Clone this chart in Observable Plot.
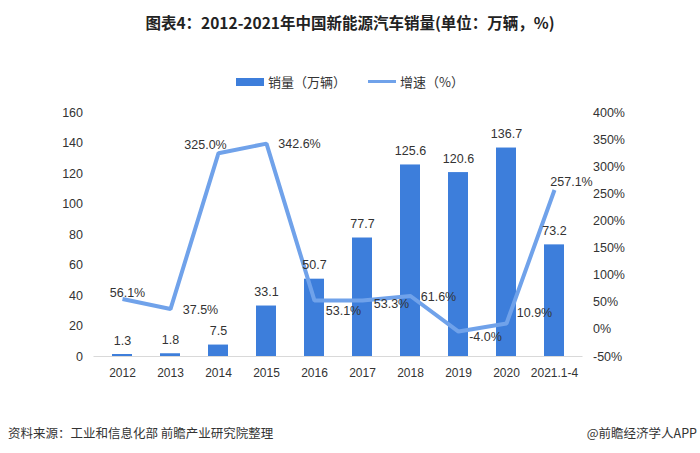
<!DOCTYPE html>
<html>
<head>
<meta charset="utf-8">
<script src="https://cdn.jsdelivr.net/npm/d3@7"></script>
<script src="https://cdn.jsdelivr.net/npm/@observablehq/plot@0.6"></script>
<style>
  body { margin: 0; background: #fff; }
  #wrap { position: relative; width: 700px; height: 453px; overflow: hidden; font-family: "Liberation Sans", "Noto Sans CJK SC", sans-serif; color: #333; }
  #title { position: absolute; top: 11px; left: 0; width: 700px; text-align: center; font-family: "Noto Sans CJK SC", sans-serif; font-weight: bold; font-size: 15.5px; color: #222; }
  #legend { position: absolute; top: 72px; left: 0; width: 700px; display: flex; justify-content: center; align-items: center; font-family: "Noto Sans CJK SC", sans-serif; font-size: 13px; color: #333; }
  .sw-bar { width: 28px; height: 8px; background: #3d7edb; margin-right: 4px; }
  .sw-line { width: 28px; height: 3px; background: #70a2ea; margin-right: 4px; margin-left: 22px; }
  #source { position: absolute; top: 423px; left: 8px; font-family: "Noto Sans CJK SC", sans-serif; font-size: 12.5px; color: #333; }
  #brand { position: absolute; top: 423px; right: 3px; font-family: "Noto Sans CJK SC", sans-serif; font-size: 12.5px; color: #333; }
  #chart { position: absolute; top: 0; left: 0; }
</style>
</head>
<body>
<div id="wrap">
  <div id="chart"></div>
  <div id="title">图表4：2012-2021年中国新能源汽车销量(单位：万辆，%)</div>
  <div id="legend"><span class="sw-bar"></span><span>销量（万辆）</span><span class="sw-line"></span><span>增速（%）</span></div>
  <div id="source">资料来源：工业和信息化部 前瞻产业研究院整理</div>
  <div id="brand">@前瞻经济学人APP</div>
</div>
<script>
const categories = ["2012","2013","2014","2015","2016","2017","2018","2019","2020","2021.1-4"];
const sales = [1.3, 1.8, 7.5, 33.1, 50.7, 77.7, 125.6, 120.6, 136.7, 73.2];
const growth = [56.1, 37.5, 325.0, 342.6, 53.1, 53.3, 61.6, -4.0, 10.9, 257.1];
const leftTicks = [0, 20, 40, 60, 80, 100, 120, 140, 160];
const rightTicks = [-50, 0, 50, 100, 150, 200, 250, 300, 350, 400];

// label placement offsets for growth labels (layout only)
const gDx = [5, 30, -13, 33, 29, 29, 28, 27, 28, 17];
const gDy = [-6, 1, -8, 0, 10, 4, 1, 5, -10, -8];

const pctMin = -50, pctMax = 400, leftMax = 160;
const conv = p => (p - pctMin) * leftMax / (pctMax - pctMin);

const bars = categories.map((c, i) => ({cat: c, v: sales[i]}));
const pts = categories.map((c, i) => ({cat: c, p: growth[i], y: conv(growth[i]), dx: gDx[i], dy: gDy[i]}));

const chart = Plot.plot({
  width: 700,
  height: 453,
  marginLeft: 93.5,
  marginRight: 117.5,
  marginTop: 112,
  marginBottom: 97,
  style: {fontFamily: "Liberation Sans, Noto Sans CJK SC, sans-serif", fontSize: "12px", color: "#333", background: "transparent"},
  x: {type: "band", domain: categories, paddingInner: 0.59, paddingOuter: 0.295, axis: null, label: null},
  y: {domain: [0, leftMax], axis: null, label: null},
  marks: [
    Plot.barY(bars, {x: "cat", y: "v", fill: "#3d7edb"}),
    Plot.ruleY([0], {stroke: "#d9d9d9", strokeWidth: 1}),
    Plot.axisX({tickSize: 0, tickPadding: 12, fontSize: 12, fill: "#333", label: null}),
    Plot.axisY({anchor: "left", ticks: leftTicks, tickSize: 0, tickPadding: 11, fontSize: 12.5, fill: "#333", label: null}),
    Plot.axisY({anchor: "right", ticks: rightTicks.map(conv), tickSize: 0, tickPadding: 10, fontSize: 12.5, fill: "#333", label: null,
      tickFormat: v => Math.round(v * (pctMax - pctMin) / leftMax + pctMin) + "%"}),
    Plot.line(pts, {x: "cat", y: "y", stroke: "#70a2ea", strokeWidth: 4, strokeLinejoin: "miter", strokeLinecap: "butt"}),
    Plot.text(bars, {x: "cat", y: "v", text: d => d.v.toFixed(1), dy: -14, fontSize: 12.5, fill: "#333"}),
    ...pts.map(d => Plot.text([d], {x: "cat", y: "y", text: d => d.p.toFixed(1) + "%", dx: d.dx, dy: d.dy, fontSize: 12.5, fill: "#333"}))
  ]
});
document.getElementById("chart").appendChild(chart);
</script>
</body>
</html>
